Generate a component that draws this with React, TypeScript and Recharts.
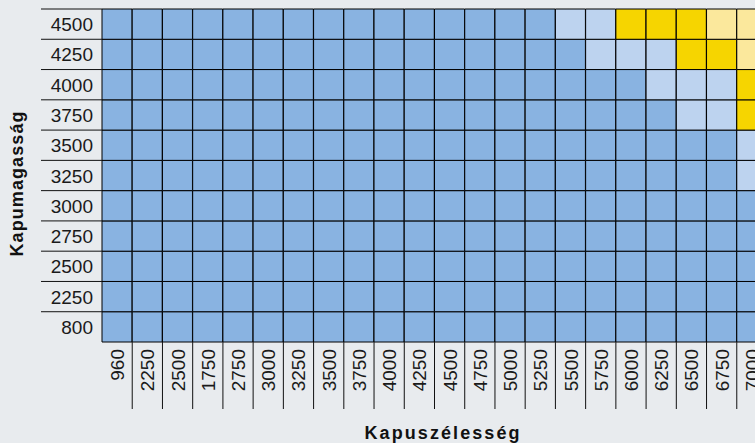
import React from 'react';
import { BarChart, Bar, XAxis, YAxis, Cell } from 'recharts';

// Column categories (gate width)
const widthLabels = ['960', '2250', '2500', '1750', '2750', '3000', '3250', '3500', '3750', '4000', '4250', '4500', '4750', '5000', '5250', '5500', '5750', '6000', '6250', '6500', '6750', '7000'];
// Row categories (gate height), bottom to top
const heightLabels = ['800', '2250', '2500', '2750', '3000', '3250', '3500', '3750', '4000', '4250', '4500'];

// Level per column: 0 = blue, 1 = light blue, 2 = yellow, 3 = light yellow
const row800 = [0, 0, 0, 0, 0, 0, 0, 0, 0, 0, 0, 0, 0, 0, 0, 0, 0, 0, 0, 0, 0, 0];
const row2250 = [0, 0, 0, 0, 0, 0, 0, 0, 0, 0, 0, 0, 0, 0, 0, 0, 0, 0, 0, 0, 0, 0];
const row2500 = [0, 0, 0, 0, 0, 0, 0, 0, 0, 0, 0, 0, 0, 0, 0, 0, 0, 0, 0, 0, 0, 0];
const row2750 = [0, 0, 0, 0, 0, 0, 0, 0, 0, 0, 0, 0, 0, 0, 0, 0, 0, 0, 0, 0, 0, 0];
const row3000 = [0, 0, 0, 0, 0, 0, 0, 0, 0, 0, 0, 0, 0, 0, 0, 0, 0, 0, 0, 0, 0, 0];
const row3250 = [0, 0, 0, 0, 0, 0, 0, 0, 0, 0, 0, 0, 0, 0, 0, 0, 0, 0, 0, 0, 0, 1];
const row3500 = [0, 0, 0, 0, 0, 0, 0, 0, 0, 0, 0, 0, 0, 0, 0, 0, 0, 0, 0, 0, 0, 1];
const row3750 = [0, 0, 0, 0, 0, 0, 0, 0, 0, 0, 0, 0, 0, 0, 0, 0, 0, 0, 0, 1, 1, 2];
const row4000 = [0, 0, 0, 0, 0, 0, 0, 0, 0, 0, 0, 0, 0, 0, 0, 0, 0, 0, 1, 1, 1, 2];
const row4250 = [0, 0, 0, 0, 0, 0, 0, 0, 0, 0, 0, 0, 0, 0, 0, 0, 1, 1, 1, 2, 2, 3];
const row4500 = [0, 0, 0, 0, 0, 0, 0, 0, 0, 0, 0, 0, 0, 0, 0, 1, 1, 2, 2, 2, 3, 3];

const rowLevels = [row800, row2250, row2500, row2750, row3000, row3250, row3500, row3750, row4000, row4250, row4500];

const COLORS = ['#89b3e1', '#bdd3ef', '#f6d500', '#fbe89c'];
const BG = '#e8ebee';
const FONT = '"Liberation Sans", Arial, Helvetica, sans-serif';

const CHART_W = 767;
const CHART_H = 443;
const MARGIN = { top: 9, right: 0, bottom: 0, left: 0 };
const Y_AXIS_W = 102;
const X_AXIS_H = 101;
const PLOT_W = CHART_W - Y_AXIS_W - MARGIN.left - MARGIN.right;
const PLOT_H = CHART_H - X_AXIS_H - MARGIN.top - MARGIN.bottom;
const COL_W = PLOT_W / widthLabels.length;
const ROW_H = PLOT_H / heightLabels.length;

const data = widthLabels.map((w) => {
  const d: Record<string, string | number> = { w };
  heightLabels.forEach((_, k) => {
    d['r' + k] = 1;
  });
  return d;
});

const yTicks = heightLabels.map((_, i) => i + 0.5);

const YTick = (props: any) => {
  const { x, y, payload } = props;
  const label = heightLabels[Math.floor(payload.value)];
  const ly = y - ROW_H / 2;
  return (
    <g>
      <line x1={x - 61} x2={x} y1={ly} y2={ly} stroke="#111" strokeWidth={1} />
      <text x={x - 9} y={y + 7} textAnchor="end" fontSize={19} fill="#1a1a1a" fontFamily={FONT}>
        {label}
      </text>
    </g>
  );
};

const XTick = (props: any) => {
  const { x, y, payload } = props;
  const lx = x + COL_W / 2;
  const tx = x + 7;
  const ty = y + 7;
  return (
    <g>
      <line x1={lx} x2={lx} y1={y} y2={y + 67} stroke="#111" strokeWidth={1} />
      <text
        x={tx}
        y={ty}
        transform={`rotate(-90, ${tx}, ${ty})`}
        textAnchor="end"
        fontSize={19}
        fill="#1a1a1a"
        fontFamily={FONT}
      >
        {payload.value}
      </text>
    </g>
  );
};

export default function App() {
  return (
    <div
      style={{
        position: 'absolute',
        left: 0,
        top: 0,
        width: 755,
        height: 443,
        overflow: 'hidden',
        background: BG,
      }}
    >
      <BarChart
        width={CHART_W}
        height={CHART_H}
        data={data}
        margin={MARGIN}
        barCategoryGap={0}
        barGap={0}
      >
        <XAxis
          dataKey="w"
          type="category"
          interval={0}
          height={X_AXIS_H}
          axisLine={false}
          tickLine={false}
          tickSize={0}
          tickMargin={0}
          tick={<XTick />}
          label={{
            content: () => (
              <text
                x={442}
                y={439}
                textAnchor="middle"
                fontSize={18}
                fontWeight="bold"
                fill="#111"
                fontFamily={FONT}
                textLength={155}
                lengthAdjust="spacing"
              >
                Kapuszélesség
              </text>
            ),
          }}
        />
        <YAxis
          type="number"
          domain={[0, heightLabels.length]}
          ticks={yTicks}
          interval={0}
          width={Y_AXIS_W}
          axisLine={false}
          tickLine={false}
          tickSize={0}
          tickMargin={0}
          tick={<YTick />}
          allowDecimals
          label={{
            content: () => (
              <text
                x={23}
                y={184}
                transform="rotate(-90, 23, 184)"
                textAnchor="middle"
                fontSize={18}
                fontWeight="bold"
                fill="#111"
                fontFamily={FONT}
                textLength={145}
                lengthAdjust="spacing"
              >
                Kapumagasság
              </text>
            ),
          }}
        />
        {heightLabels.map((h, k) => (
          <Bar
            key={h}
            dataKey={'r' + k}
            stackId="grid"
            isAnimationActive={false}
            stroke="#000"
            strokeWidth={1}
          >
            {widthLabels.map((w, i) => (
              <Cell key={w} fill={COLORS[rowLevels[k][i]]} stroke="#000" strokeWidth={1} />
            ))}
          </Bar>
        ))}
      </BarChart>
    </div>
  );
}
